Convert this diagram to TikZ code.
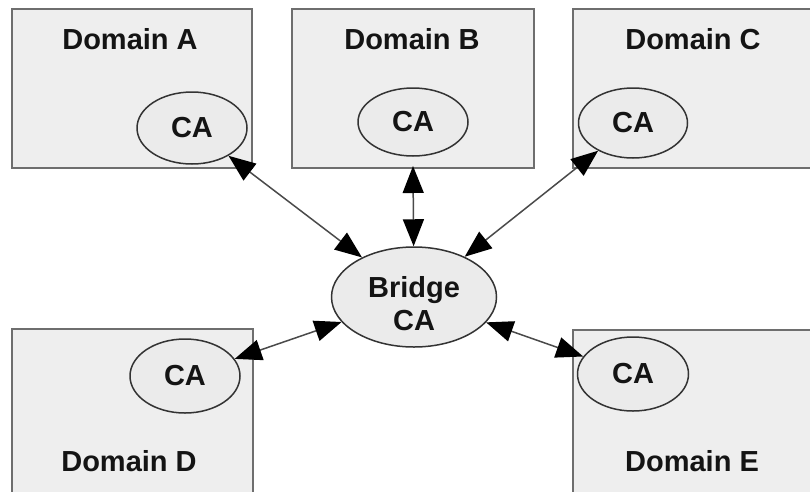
\documentclass[tikz,border=0pt]{standalone}
\usepackage{fontspec}
\setmainfont{Liberation Sans}
\usetikzlibrary{arrows.meta,shapes.geometric}
\definecolor{boxfill}{HTML}{EEEEEE}
\definecolor{boxline}{HTML}{6E6E6E}
\definecolor{ellfill}{HTML}{EBEBEB}
\definecolor{ellline}{HTML}{333333}
\definecolor{linkline}{HTML}{4A4A4A}
\definecolor{txt}{HTML}{141414}
\tikzset{
  head/.tip={Triangle[length=27pt,width=21pt,color=black]},
  domainbox/.style={draw=boxline, fill=boxfill, line width=2pt},
  dlabel/.style={font=\fontsize{29}{33}\selectfont\bfseries, text=txt},
  ca/.style={ellipse, draw=ellline, fill=ellfill, line width=1.5pt,
    inner sep=0pt, minimum width=#1, font=\fontsize{29}{33}\selectfont\bfseries, text=txt},
  link/.style={draw=linkline, line width=1.5pt, head-head}
}
\begin{document}
\begin{tikzpicture}[x=1pt,y=-1pt]
  \useasboundingbox (0,0) rectangle (810,491);
  \clip (0,0) rectangle (810,491);
  % domain boxes
  \draw[domainbox] (12,9) rectangle (252,168);
  \draw[domainbox] (292,9) rectangle (534,168);
  \draw[domainbox] (573,9) rectangle (830,168);
  \draw[domainbox] (12,329) rectangle (253,500);
  \draw[domainbox] (573,330) rectangle (830,500);
  \coordinate (boxBs) at (413,166);
  % domain labels
  \node[dlabel] (labA) at (130,39) {Domain A};
  \node[dlabel] (labB) at (412,39) {Domain B};
  \node[dlabel] (labC) at (693,39) {Domain C};
  \node[dlabel] (labD) at (129,461) {Domain D};
  \node[dlabel] (labE) at (692,461) {Domain E};
  % certification authorities
  \node[ca=110pt, minimum height=72pt] (caA) at (192,128) {CA};
  \node[ca=110pt, minimum height=68pt] (caB) at (413,122) {CA};
  \node[ca=109pt, minimum height=70pt] (caC) at (633,123) {CA};
  \node[ca=110pt, minimum height=74pt] (caD) at (185,376) {CA};
  \node[ca=111pt, minimum height=74pt] (caE) at (633,374) {CA};
  \node[ca=165pt, minimum height=100pt] (bridge) at (414,297) {};
  \node[dlabel, align=center] (bridgetxt) at (414,304) {Bridge\\CA};
  % links to the bridge
  \draw[link] (caA) -- (bridge);
  \draw[link] (boxBs) -- (bridge);
  \draw[link] (caC) -- (bridge);
  \draw[link] (caD) -- (bridge);
  \draw[link] (caE) -- (bridge);
\end{tikzpicture}
\end{document}
